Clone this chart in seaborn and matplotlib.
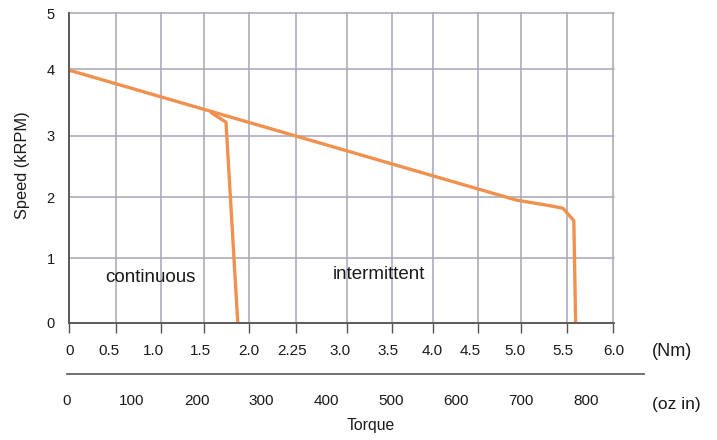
import matplotlib
matplotlib.use("Agg")
import matplotlib.pyplot as plt
import seaborn as sns
import pandas as pd

# ---------------- data ----------------
torque_peak_nm = [0.0, 4.94, 5.27, 5.45, 5.57, 5.59]
speed_peak_krpm = [4.08, 1.98, 1.90, 1.85, 1.65, 0.0]
torque_cont_nm = [1.57, 1.73, 1.86]
speed_cont_krpm = [3.39, 3.24, 0.0]

nm_tick_labels = ["0", "0.5", "1.0", "1.5", "2.0", "2.25", "3.0",
                  "3.5", "4.0", "4.5", "5.0", "5.5", "6.0"]
speed_tick_labels = ["0", "1", "2", "3", "4", "5"]
oz_tick_values = [0, 100, 200, 300, 400, 500, 600, 700, 800]
oz_tick_labels = [str(v) for v in oz_tick_values]

# ---------------- layout (as drawn in the reference) ----------------
W, H = 717, 440
grid_x = [0, 0.511, 1.010, 1.491, 1.989, 2.504, 3.065, 3.567,
          4.015, 4.514, 4.987, 5.494, 6.0]
grid_y = [0, 1.041, 2.027, 3.022, 4.095, 5.0]
nm_label_x = [0.008, 0.440, 0.933, 1.447, 1.978, 2.457, 2.988,
              3.522, 4.008, 4.426, 4.915, 5.448, 6.017]

orange = "#F0914F"
grid_col = "#a4a6b4"
spine_col = "#555555"
txt_col = "#1a1a1a"

sns.set_style("white")
plt.rcParams["font.family"] = ["Liberation Sans", "DejaVu Sans"]

fig = plt.figure(figsize=(W / 100, H / 100), dpi=100)

def fx(px):
    return px / W

def fy(py):
    return 1 - py / H

ax = fig.add_axes([fx(69.3), fy(322.7), (614.3 - 69.3) / W, (322.7 - 13.3) / H])

peak = pd.DataFrame({"torque": torque_peak_nm, "speed": speed_peak_krpm})
cont = pd.DataFrame({"torque": torque_cont_nm, "speed": speed_cont_krpm})
sns.lineplot(data=peak, x="torque", y="speed", sort=False, color=orange,
             linewidth=2.4, ax=ax, zorder=3)
sns.lineplot(data=cont, x="torque", y="speed", sort=False, color=orange,
             linewidth=2.4, ax=ax, zorder=3)

ax.set_xlim(0, 6)
ax.set_ylim(0, 5)
ax.set_xlabel("")
ax.set_ylabel("")

# grid + tick marks
ax.set_xticks(grid_x)
ax.set_xticklabels([])
ax.set_xticks(nm_label_x, labels=nm_tick_labels, minor=True)
ax.set_yticks(grid_y, labels=speed_tick_labels)
ax.grid(True, which="major", color=grid_col, linewidth=1.1)
ax.set_axisbelow(True)
for gl in ax.get_xgridlines() + ax.get_ygridlines():
    gl.set_clip_on(False)

ax.tick_params(axis="x", which="major", direction="out", length=7.5,
               width=1.0, color=spine_col, bottom=True)
ax.tick_params(axis="x", which="minor", length=0, pad=15.5,
               labelsize=11, labelcolor=txt_col, bottom=True)
ax.tick_params(axis="y", which="major", length=0, pad=10.5,
               labelsize=10.5, labelcolor=txt_col)

for s in ["top", "right"]:
    ax.spines[s].set_visible(False)
for s in ["left", "bottom"]:
    ax.spines[s].set_color(spine_col)
    ax.spines[s].set_linewidth(1.3)
    ax.spines[s].set_zorder(4)

ax.text(0.899, 0.734, "continuous", ha="center", va="center",
        fontsize=13.5, color=txt_col)
ax.text(3.413, 0.771, "intermittent", ha="center", va="center",
        fontsize=13.5, color=txt_col)

# oz-in secondary scale
ax2 = fig.add_axes([fx(66.8), fy(374.3), (644 - 66.8) / W, 0.0001])
ax2.set_xlim(0, 889.4)
ax2.set_ylim(0, 1)
ax2.patch.set_visible(False)
for s in ["top", "right", "left"]:
    ax2.spines[s].set_visible(False)
ax2.spines["bottom"].set_color("#666666")
ax2.spines["bottom"].set_linewidth(1.3)
ax2.set_yticks([])
ax2.set_xticks(oz_tick_values, labels=oz_tick_labels)
ax2.tick_params(axis="x", direction="out", length=8.5, width=1.0,
                color=spine_col, pad=6, labelsize=11, labelcolor=txt_col)
ax2.xaxis.get_major_ticks()[0].tick1line.set_visible(False)

# axis titles / units
fig.text(fx(22.5), fy(165), "Speed (kRPM)", rotation=90, ha="center",
         va="center", fontsize=11.8, color=txt_col)
fig.text(fx(371), fy(425.5), "Torque", ha="center", va="center",
         fontsize=11.3, color=txt_col)
fig.text(fx(651.7), fy(351.7), "(Nm)", ha="left", va="center",
         fontsize=13, color=txt_col)
fig.text(fx(651.7), fy(404), "(oz in)", ha="left", va="center",
         fontsize=12.5, color=txt_col)

fig.savefig("out.png", dpi=100)
